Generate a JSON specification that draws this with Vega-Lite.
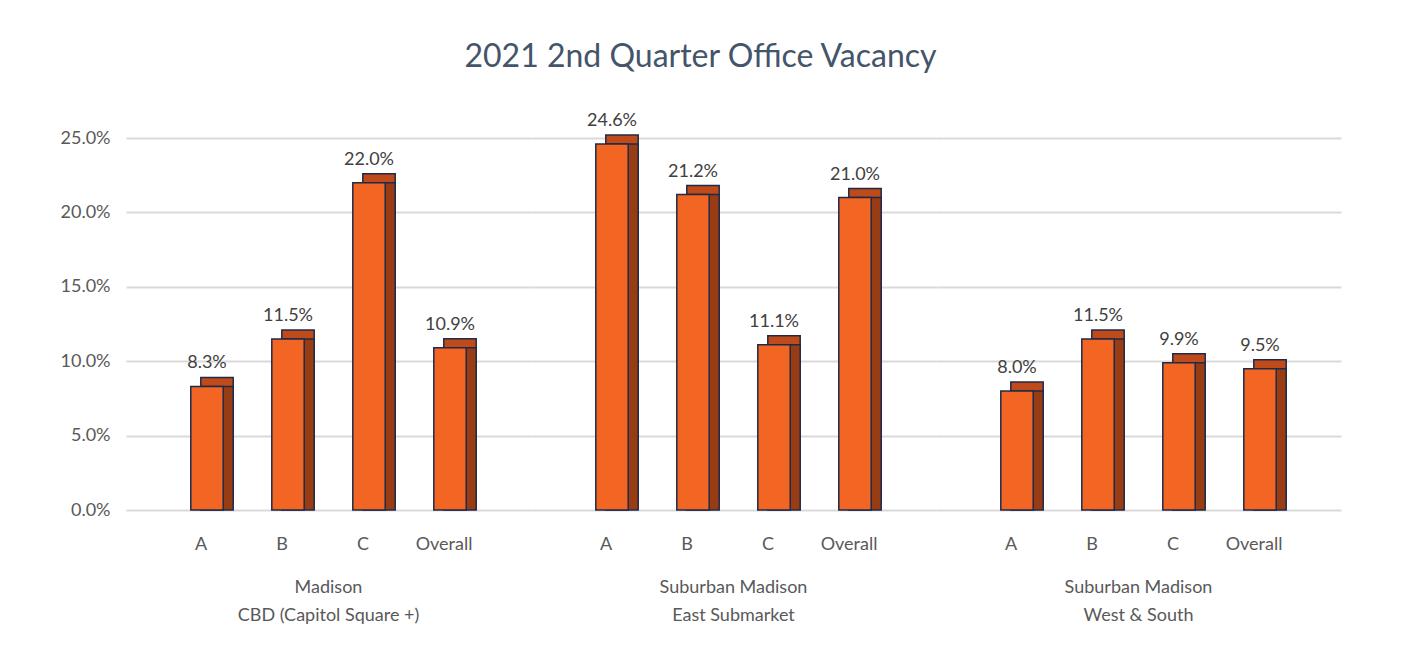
{
  "$schema": "https://vega.github.io/schema/vega-lite/v6.json",
  "background": "white",
  "padding": {"left": 60, "top": 40, "right": 60, "bottom": 10},
  "title": {"text": "2021 2nd Quarter Office Vacancy", "fontSize": 32, "font": "Lato", "fontWeight": "normal", "color": "#44546A", "anchor": "middle", "offset": 38},
  "data": {"values": [
    {"market": "Madison|CBD (Capitol Square +)", "cls": "A", "v": 0.083},
    {"market": "Madison|CBD (Capitol Square +)", "cls": "B", "v": 0.115},
    {"market": "Madison|CBD (Capitol Square +)", "cls": "C", "v": 0.220},
    {"market": "Madison|CBD (Capitol Square +)", "cls": "Overall", "v": 0.109},
    {"market": "Suburban Madison|East Submarket", "cls": "A", "v": 0.246},
    {"market": "Suburban Madison|East Submarket", "cls": "B", "v": 0.212},
    {"market": "Suburban Madison|East Submarket", "cls": "C", "v": 0.111},
    {"market": "Suburban Madison|East Submarket", "cls": "Overall", "v": 0.210},
    {"market": "Suburban Madison|West & South", "cls": "A", "v": 0.080},
    {"market": "Suburban Madison|West & South", "cls": "B", "v": 0.115},
    {"market": "Suburban Madison|West & South", "cls": "C", "v": 0.099},
    {"market": "Suburban Madison|West & South", "cls": "Overall", "v": 0.095}
  ]},
  "spacing": 0,
  "facet": {
    "column": {
      "field": "market", "type": "nominal",
      "sort": ["Madison|CBD (Capitol Square +)", "Suburban Madison|East Submarket", "Suburban Madison|West & South"],
      "header": {
        "title": null, "labelOrient": "bottom", "labelExpr": "split(datum.value, '|')",
        "labelFontSize": 18, "labelFont": "Lato", "labelColor": "#595959", "labelPadding": 26, "labelLineHeight": 28
      }
    }
  },
  "spec": {
    "width": 405,
    "height": 372,
    "encoding": {
      "x": {"field": "cls", "type": "nominal", "sort": ["A", "B", "C", "Overall"],
        "scale": {"paddingInner": 0.6, "paddingOuter": 0.8},
        "axis": {"title": null, "labelAngle": 0, "domain": false, "ticks": false, "labelPadding": 24, "labelFontSize": 18, "labelFont": "Lato", "labelColor": "#595959", "labelOffset": -6}},
      "y": {"field": "v", "type": "quantitative", "scale": {"domain": [0, 0.25]},
        "axis": {"title": null, "format": ".1%", "values": [0, 0.05, 0.1, 0.15, 0.2, 0.25], "domain": false, "ticks": false, "labelPadding": 16, "labelFontSize": 18, "labelFont": "Lato", "labelColor": "#595959", "gridColor": "#D9D9D9", "gridWidth": 2}}
    },
    "layer": [
      {"mark": {"type": "bar", "color": "#BE4B19", "stroke": "#1F2A4A", "strokeWidth": 1.5, "xOffset": 10, "x2Offset": 10, "yOffset": -9, "y2Offset": -9}},
      {"mark": {"type": "bar", "color": "#983C14", "stroke": "#1F2A4A", "strokeWidth": 1.5, "xOffset": 10, "x2Offset": 10, "y2Offset": -9}},
      {"mark": {"type": "bar", "color": "#F26522", "stroke": "#1F2A4A", "strokeWidth": 1.5}},
      {"mark": {"type": "text", "baseline": "bottom", "dy": -14, "fontSize": 18, "font": "Lato", "color": "#404040"},
        "encoding": {"text": {"field": "v", "type": "quantitative", "format": ".1%"}}}
    ]
  },
  "config": {"view": {"stroke": null}}
}
